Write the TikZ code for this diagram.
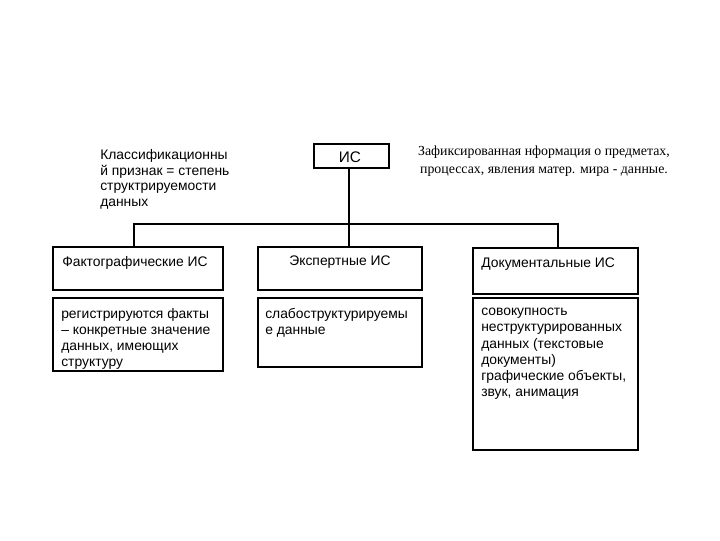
\documentclass[tikz,border=0pt]{standalone}
\usepackage{fontspec}
\setmainfont{Liberation Sans}
\newfontfamily\serifru{Liberation Serif}
\begin{document}
\begin{tikzpicture}[x=0.75pt,y=-0.75pt,
  box/.style={draw,line width=0.8pt},
  txt/.style={inner sep=0pt,anchor=north west,align=left,font=\fontsize{10.4}{12.1}\selectfont},
  link/.style={line width=0.8pt}]
\useasboundingbox (0,0) rectangle (720,540);
% boxes
\draw[box] (314,144) rectangle (389,168);
\node[font=\fontsize{11.5}{14}\selectfont,inner sep=0pt] (is) at (350,157) {ИС};
\coordinate (isb) at (349,168);
\draw[box] (53,247) rectangle (223,290);
\draw[box] (258,247) rectangle (422,290);
\draw[box] (473,248) rectangle (638,294);
\draw[box] (53,298) rectangle (223,371);
\draw[box] (258,298) rectangle (422,367);
\draw[box] (473,298) rectangle (638,450);
\coordinate (jl) at (134,224);
\coordinate (jr) at (558,224);
\coordinate (t1) at (134,247);
\coordinate (t2) at (349,247);
\coordinate (t3) at (558,248);
\draw[link] (isb) -- (t2);
\draw[link] (t1) -- (jl) -- (jr) -- (t3);
% texts
\node[txt,font=\fontsize{10.4}{11.8}\selectfont] (cl) at (100,149) {Классификационны\\й признак = степень\\структрируемости\\данных};
\node[inner sep=0pt,align=center,font=\serifru\fontsize{10.4}{13.5}\selectfont] (def) at (544,161) {Зафиксированная нформация о предметах,\\процессах, явления матер. мира - данные.};
\node[txt] (b1) at (62,256) {Фактографические ИС};
\node[txt,anchor=north] (b2) at (340,256) {Экспертные ИС};
\node[txt] (b3) at (481,258) {Документальные ИС};
\node[txt] (b4) at (61,308) {регистрируются факты\\– конкретные значение\\данных, имеющих\\структуру};
\node[txt] (b5) at (265,308) {слабоструктурируемы\\е данные};
\node[txt] (b6) at (481,308) {совокупность\\неструктурированных\\данных (текстовые\\документы)\\графические объекты,\\звук, анимация};
\end{tikzpicture}
\end{document}
